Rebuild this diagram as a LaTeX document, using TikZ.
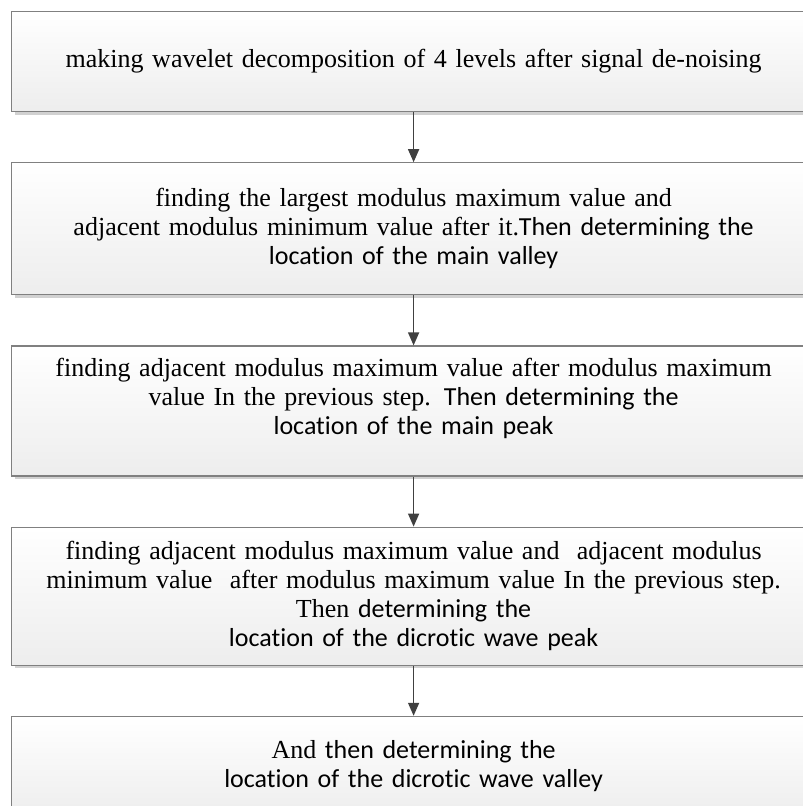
\documentclass[tikz,border=0pt]{standalone}
\usepackage{fontspec}
\setmainfont{Liberation Serif}
\newfontfamily\calfont[Ligatures=NoCommon]{Carlito}
\usetikzlibrary{positioning,arrows.meta,shadows}

\begin{document}
\begin{tikzpicture}[x=1pt,y=1pt,
    stepbox/.style={draw=black!50,line width=1.2pt,top color=white,bottom color=black!7,
      minimum width=804pt,text width=800pt,align=center,inner sep=0pt,
      font=\fontsize{26}{29}\selectfont,
      drop shadow={shadow xshift=3pt,shadow yshift=-3pt,fill=black!18,opacity=1}},
    flow/.style={draw=black!75,line width=1.5pt,-{Triangle[width=11pt,length=13pt]}}]
  \useasboundingbox (0,0) rectangle (803,-806);
  \node[stepbox,minimum height=100pt,anchor=north west] (decomp) at (11,-11)
    {making wavelet decomposition of 4 levels after signal de-noising};
  \node[stepbox,minimum height=132pt,below=50pt of decomp] (valley)
    {finding the largest modulus maximum value and\\
     adjacent modulus minimum value after it.{\calfont Then determining the}\\
     {\calfont location of the main valley}};
  \node[stepbox,minimum height=130pt,below=50pt of valley] (peak)
    {finding adjacent modulus maximum value after modulus maximum\\
     value In the previous step. {\calfont Then determining the}\\
     {\calfont location of the main peak}\\ \mbox{}};
  \node[stepbox,minimum height=138pt,below=50pt of peak] (dpeak)
    {finding adjacent modulus maximum value and\ \ adjacent modulus\\
     minimum value\ \ after modulus maximum value In the previous step.\\
     Then {\calfont determining the}\\
     {\calfont location of the dicrotic wave peak}};
  \node[stepbox,minimum height=100pt,below=50pt of dpeak] (dvalley)
    {And {\calfont then determining the}\\
     {\calfont location of the dicrotic wave valley}};
  \draw[flow] (decomp) -- (valley);
  \draw[flow] (valley) -- (peak);
  \draw[flow] (peak) -- (dpeak);
  \draw[flow] (dpeak) -- (dvalley);
\end{tikzpicture}
\end{document}
